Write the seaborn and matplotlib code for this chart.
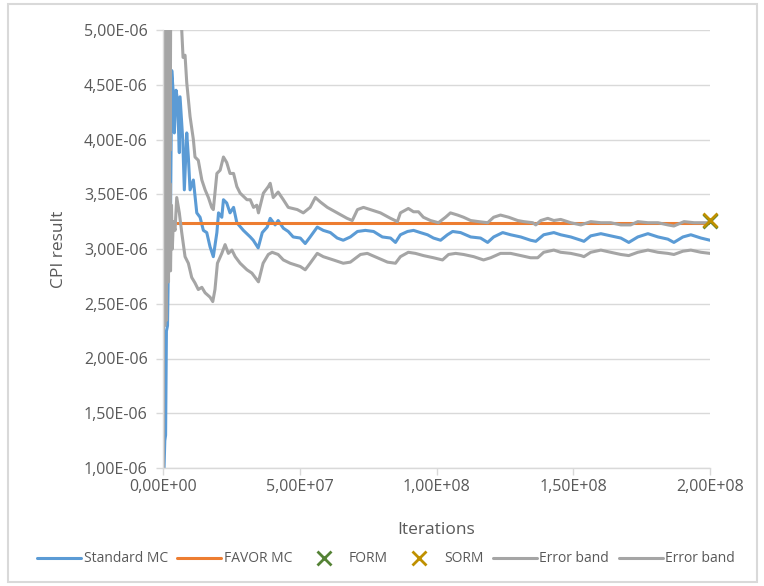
import numpy as np
import pandas as pd
import matplotlib
matplotlib.use("Agg")
import matplotlib.pyplot as plt
import seaborn as sns
from matplotlib.patches import Rectangle
from matplotlib.ticker import FuncFormatter, MultipleLocator

# iterations in millions, CPI result in units of 1e-6
std_iter = [0.22, 0.66, 0.95, 1.25, 1.65, 2.2, 2.75, 3.19, 3.77, 4.14, 4.76, 5.31, 5.97, 6.23,
            7.22, 7.8, 8.68, 9.27, 9.89, 11.1, 12.35, 13.55, 14.76, 16.0, 17.2, 18.4, 19.7, 20.3,
            21.5, 22.1, 23.3, 24.5, 25.8, 27.0, 29.4, 31.9, 33.0, 34.8, 36.3, 38.1, 39.2, 41.0,
            42.1, 44.0, 45.8, 47.6, 50.2, 52.0, 53.8, 56.4, 58.6, 61.2, 63.7, 65.9, 68.5, 71.1,
            74.0, 77.0, 80.2, 83.2, 85.0, 86.8, 89.4, 91.6, 94.1, 96.7, 98.9, 101.5, 104.0, 105.9,
            108.8, 112.5, 116.1, 118.7, 120.9, 124.2, 127.1, 130.8, 134.4, 136.3, 139.2, 142.9,
            145.4, 149.1, 152.8, 153.9, 156.4, 160.1, 163.7, 167.4, 170.3, 173.6, 177.3, 181.0,
            184.6, 186.8, 190.1, 193.0, 196.7, 200.0]
std_cpi = [0.85, 1.25, 1.3, 2.25, 2.3, 3.25, 3.3, 4.63, 4.42, 4.06, 4.45, 4.36, 3.88, 4.39,
           4.0, 3.54, 4.06, 3.84, 3.54, 3.63, 3.33, 3.29, 3.17, 3.15, 3.02, 2.93, 3.15, 3.33,
           3.29, 3.45, 3.42, 3.33, 3.38, 3.24, 3.17, 3.11, 3.08, 3.01, 3.15, 3.20, 3.28, 3.22,
           3.26, 3.19, 3.16, 3.11, 3.10, 3.05, 3.11, 3.20, 3.17, 3.15, 3.10, 3.08, 3.11, 3.16,
           3.17, 3.16, 3.11, 3.10, 3.06, 3.13, 3.16, 3.17, 3.15, 3.13, 3.10, 3.08, 3.13, 3.16,
           3.15, 3.11, 3.10, 3.06, 3.11, 3.15, 3.13, 3.11, 3.08, 3.07, 3.13, 3.15,
           3.13, 3.11, 3.08, 3.07, 3.12, 3.14, 3.12, 3.10, 3.06, 3.11, 3.14, 3.11,
           3.09, 3.06, 3.11, 3.13, 3.10, 3.08]

favor_iter = [5.0, 200.0]
favor_cpi = [3.24, 3.24]

form_iter = [200.0]
form_cpi = [3.26]
sorm_iter = [200.0]
sorm_cpi = [3.265]

upper_iter = [0.11, 0.25, 0.37, 0.5, 0.66, 0.8, 0.95, 1.1, 1.28, 1.45, 1.65, 1.8, 2.01, 2.2,
              2.38, 2.6, 2.93, 3.3, 3.66, 4.76, 5.49, 6.23, 6.85,
              7.33, 8.06, 8.68, 9.89, 11.1, 11.7, 12.9, 14.2, 15.4, 16.6, 17.8, 18.4, 19.7, 20.9,
              22.1, 23.3, 24.5, 25.8, 27.0, 28.2, 30.7, 31.9, 33.1, 34.3, 34.9, 36.7, 38.5, 39.2,
              40.3, 42.1, 44.0, 45.8, 49.1, 51.3, 53.8, 55.7, 57.5, 60.1, 63.7, 67.3, 69.2, 71.1,
              73.3, 75.8, 79.5, 83.2, 85.7, 86.8, 89.7, 91.6, 93.4, 95.2, 97.8, 100.7, 103.3, 105.1,
              107.7, 109.9, 112.5, 115.4, 118.7, 120.9, 123.4, 126.4, 129.7, 131.9, 135.2, 136.3,
              138.1, 140.7, 142.9, 145.4, 149.1, 152.8, 156.4, 160.1, 163.7, 167.4, 171.0, 173.6,
              177.3, 181.0, 184.6, 186.8, 190.5, 194.2, 197.8, 200.0]
upper_cpi = [6.0, 2.4, 6.2, 2.9, 6.0, 2.7, 5.8, 3.2, 6.1, 3.0, 5.9, 3.4, 5.8, 3.6,
             5.7, 3.9, 5.9, 5.4, 5.5, 5.6, 5.3, 5.4, 5.0,
             4.75, 4.77, 4.52, 4.21, 4.0, 3.84, 3.81, 3.63, 3.54, 3.47, 3.38, 3.36, 3.69, 3.72,
             3.84, 3.79, 3.69, 3.69, 3.57, 3.51, 3.45, 3.45, 3.38, 3.40, 3.33, 3.51, 3.57, 3.60,
             3.47, 3.52, 3.45, 3.38, 3.36, 3.33, 3.38, 3.47, 3.43, 3.38, 3.33, 3.28, 3.26, 3.36,
             3.38, 3.36, 3.33, 3.28, 3.25, 3.33, 3.37, 3.34, 3.34, 3.29, 3.26, 3.24, 3.29, 3.33,
             3.31, 3.29, 3.26, 3.25, 3.24, 3.29, 3.31, 3.29, 3.26, 3.25, 3.24, 3.22,
             3.26, 3.28, 3.26, 3.27, 3.24, 3.22, 3.25, 3.24, 3.24, 3.22, 3.22, 3.25,
             3.24, 3.24, 3.22, 3.21, 3.25, 3.24, 3.24, 3.24]

lower_iter = [0.11, 0.25, 0.37, 0.5, 0.66, 0.8, 0.95, 1.1, 1.28, 1.45, 1.65, 1.8, 2.01, 2.2,
              2.38, 2.55, 2.75, 3.11, 3.41, 3.77, 4.40, 5.02,
              5.97, 6.85, 8.06, 9.27, 10.5, 11.7, 12.9, 14.2, 15.4, 17.2, 18.2, 19.0, 19.9, 21.5,
              22.7, 23.9, 25.2, 26.4, 28.2, 30.7, 32.5, 34.3, 34.9, 36.6, 38.5, 39.9, 42.1, 44.0,
              46.5, 50.2, 52.0, 53.8, 56.4, 58.6, 62.3, 65.9, 68.5, 72.2, 74.7, 78.4, 82.1, 85.0,
              86.8, 89.7, 92.3, 95.2, 98.9, 102.2, 104.4, 107.0, 109.9, 113.6, 117.2, 119.8, 123.4,
              127.1, 130.8, 134.4, 137.0, 139.2, 142.9, 145.4, 149.1, 152.8, 153.9, 156.4, 160.1,
              163.7, 167.4, 170.3, 173.6, 177.3, 181.0, 184.6, 186.8, 190.1, 193.0, 196.7, 200.0]
lower_cpi = [0.5, 5.5, 2.5, 5.2, 2.3, 4.9, 2.6, 4.6, 2.35, 4.3, 3.0, 4.0, 2.7, 3.8,
             3.2, 3.6, 2.8, 3.4, 3.0, 3.25, 3.17, 3.47,
             3.33, 3.15, 2.93, 2.87, 2.74, 2.69, 2.63, 2.65, 2.60, 2.56, 2.52, 2.63, 2.87, 2.96,
             3.04, 2.96, 2.99, 2.93, 2.87, 2.81, 2.78, 2.72, 2.70, 2.87, 2.95, 2.97, 2.95, 2.90,
             2.87, 2.84, 2.81, 2.87, 2.96, 2.93, 2.90, 2.87, 2.88, 2.95, 2.96, 2.92, 2.88, 2.87,
             2.93, 2.97, 2.96, 2.94, 2.92, 2.90, 2.95, 2.96, 2.95, 2.93, 2.90, 2.92, 2.96,
             2.96, 2.94, 2.92, 2.92, 2.97, 2.99, 2.97, 2.96, 2.94, 2.93, 2.97, 2.99,
             2.97, 2.95, 2.94, 2.97, 2.99, 2.97, 2.96, 2.95, 2.98, 2.99, 2.97, 2.96]


def frame(it, cpi):
    return pd.DataFrame({"it": np.array(it) * 1e6, "cpi": np.array(cpi) * 1e-6})


sns.set_theme(style="white")
plt.rcParams["font.family"] = ["Open Sans", "DejaVu Sans"]

fig = plt.figure(figsize=(7.64, 5.86), dpi=100)
ax = fig.add_axes([163 / 764, 1 - 468 / 586, (710 - 163) / 764, (468 - 30) / 586])

lw = 2.2
sns.lineplot(data=frame(std_iter, std_cpi), x="it", y="cpi", ax=ax, color="#5B9BD5",
             lw=lw, sort=False, estimator=None, label="Standard MC")
sns.lineplot(data=frame(favor_iter, favor_cpi), x="it", y="cpi", ax=ax, color="#ED7D31",
             lw=lw, sort=False, estimator=None, label="FAVOR MC")
ax.plot(np.array(form_iter) * 1e6, np.array(form_cpi) * 1e-6, ls="none", marker="x",
        ms=10, mew=2, color="#548235", label="FORM", clip_on=False, zorder=5)
ax.plot(np.array(sorm_iter) * 1e6, np.array(sorm_cpi) * 1e-6, ls="none", marker="x",
        ms=10, mew=2, color="#BF9000", label="SORM", clip_on=False, zorder=6)
sns.lineplot(data=frame(upper_iter, upper_cpi), x="it", y="cpi", ax=ax, color="#A5A5A5",
             lw=lw, sort=False, estimator=None, label="Error band")
sns.lineplot(data=frame(lower_iter, lower_cpi), x="it", y="cpi", ax=ax, color="#A5A5A5",
             lw=lw, sort=False, estimator=None, label="Error band")

ax.set_xlim(0, 2e8)
ax.set_ylim(1e-6, 5e-6)
ax.xaxis.set_major_locator(MultipleLocator(5e7))
ax.yaxis.set_major_locator(MultipleLocator(5e-7))
fmt = FuncFormatter(lambda v, p: f"{v:.2E}".replace(".", ","))
ax.xaxis.set_major_formatter(fmt)
ax.yaxis.set_major_formatter(fmt)
ax.yaxis.get_offset_text().set_visible(False)
ax.xaxis.get_offset_text().set_visible(False)

ax.grid(axis="y", color="#D9D9D9", lw=1)
ax.set_axisbelow(True)
for s in ["top", "right"]:
    ax.spines[s].set_visible(False)
for s in ["left", "bottom"]:
    ax.spines[s].set_color("#D9D9D9")
    ax.spines[s].set_linewidth(1)
ax.tick_params(axis="both", colors="#595959", labelsize=11.5, length=5, width=1,
               direction="out", left=True, bottom=True)
ax.tick_params(axis="y", pad=6)
ax.tick_params(axis="x", pad=3)
ax.tick_params(axis="both", color="#D9D9D9")

ax.set_xlabel("Iterations", fontsize=12.5, color="#595959", labelpad=19)
ax.set_ylabel("CPI result", fontsize=12.5, color="#595959", labelpad=12)

ax.get_legend().remove()
handles, labels = ax.get_legend_handles_labels()
fig.legend(handles, labels, loc="center left", bbox_to_anchor=(37 / 764, 1 - 559 / 586),
           ncol=6, frameon=False, fontsize=10, handlelength=3.15, handletextpad=0.2,
           columnspacing=0.7, borderaxespad=0, borderpad=0, labelcolor="#595959")

fig.patches.append(Rectangle((8 / 764, 4 / 586), 749 / 764, 578 / 586, transform=fig.transFigure,
                             fill=False, edgecolor="#D9D9D9", lw=1.5))

fig.savefig("out.png", dpi=100)
